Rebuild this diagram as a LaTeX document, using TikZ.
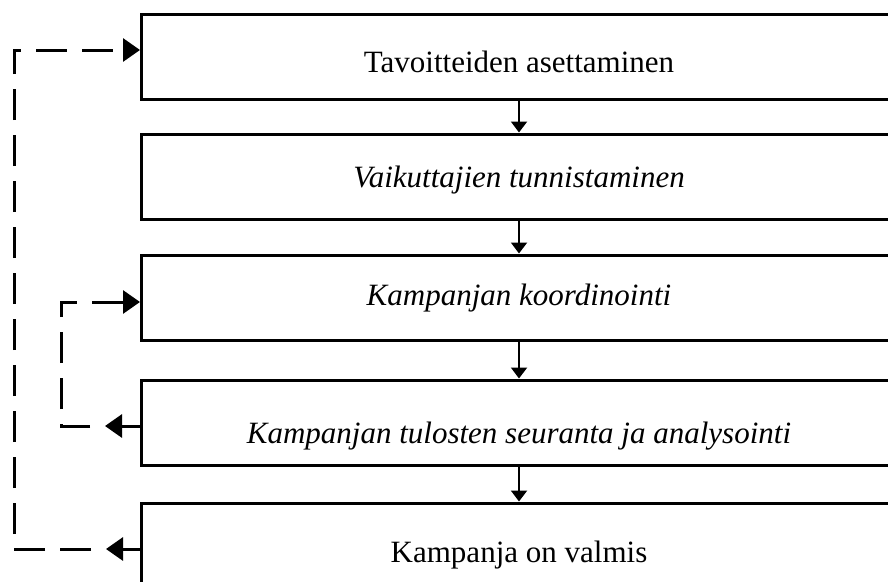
\documentclass[tikz,border=0pt]{standalone}
\usepackage{fontspec}
\setmainfont{Liberation Serif}
\usetikzlibrary{arrows.meta}
\begin{document}
\begin{tikzpicture}[x=1pt,y=-1pt,
  box/.style={draw, line width=3pt, rectangle, minimum width=755pt,
    minimum height=85pt, inner sep=0pt, text depth=0pt,
    font=\fontsize{31}{37}\selectfont},
  flow/.style={line width=2pt, -{Triangle[length=11pt,width=16pt]}},
  back/.style={line width=3pt, -{Triangle[length=17pt,width=23pt]}},
  loopline/.style={line width=3pt, dash pattern=on 31pt off 15pt,
    dash phase=31pt, -{Triangle[length=17pt,width=23pt]}},
]
\useasboundingbox (0,0) rectangle (888,581);
\clip (0,0) rectangle (888,581);

% process steps
\node[box, text height=31pt] (b1) at (519,56.5) {Tavoitteiden asettaminen};
\node[box, text height=21pt] (b2) at (519,176.5) {\itshape Vaikuttajien tunnistaminen};
\node[box, text height=15pt] (b3) at (519,297.5) {\itshape Kampanjan koordinointi};
\node[box, text height=41pt] (b4) at (519,422.5) {\itshape Kampanjan tulosten seuranta ja analysointi};
\node[box, text height=33pt] (b5) at (519,545.5) {Kampanja on valmis};

% main flow
\draw[flow] (b1) -- (b2);
\draw[flow] (b2) -- (b3);
\draw[flow] (b3) -- (b4);
\draw[flow] (b4) -- (b5);

% inner feedback loop
\coordinate (c2) at (61,302);
\draw[back] ([yshift=-3.5pt]b4.west) -- ++(-35,0) coordinate (o2);
\draw[loopline] (o2) -| (c2) -- ([yshift=-4.5pt]b3.west);

% outer feedback loop
\coordinate (c1) at (14,50);
\draw[back] ([yshift=-3.5pt]b5.west) -- ++(-34,0) coordinate (o1);
\draw[loopline] (o1) -| (c1) -- ([yshift=6.5pt]b1.west);
\end{tikzpicture}
\end{document}
